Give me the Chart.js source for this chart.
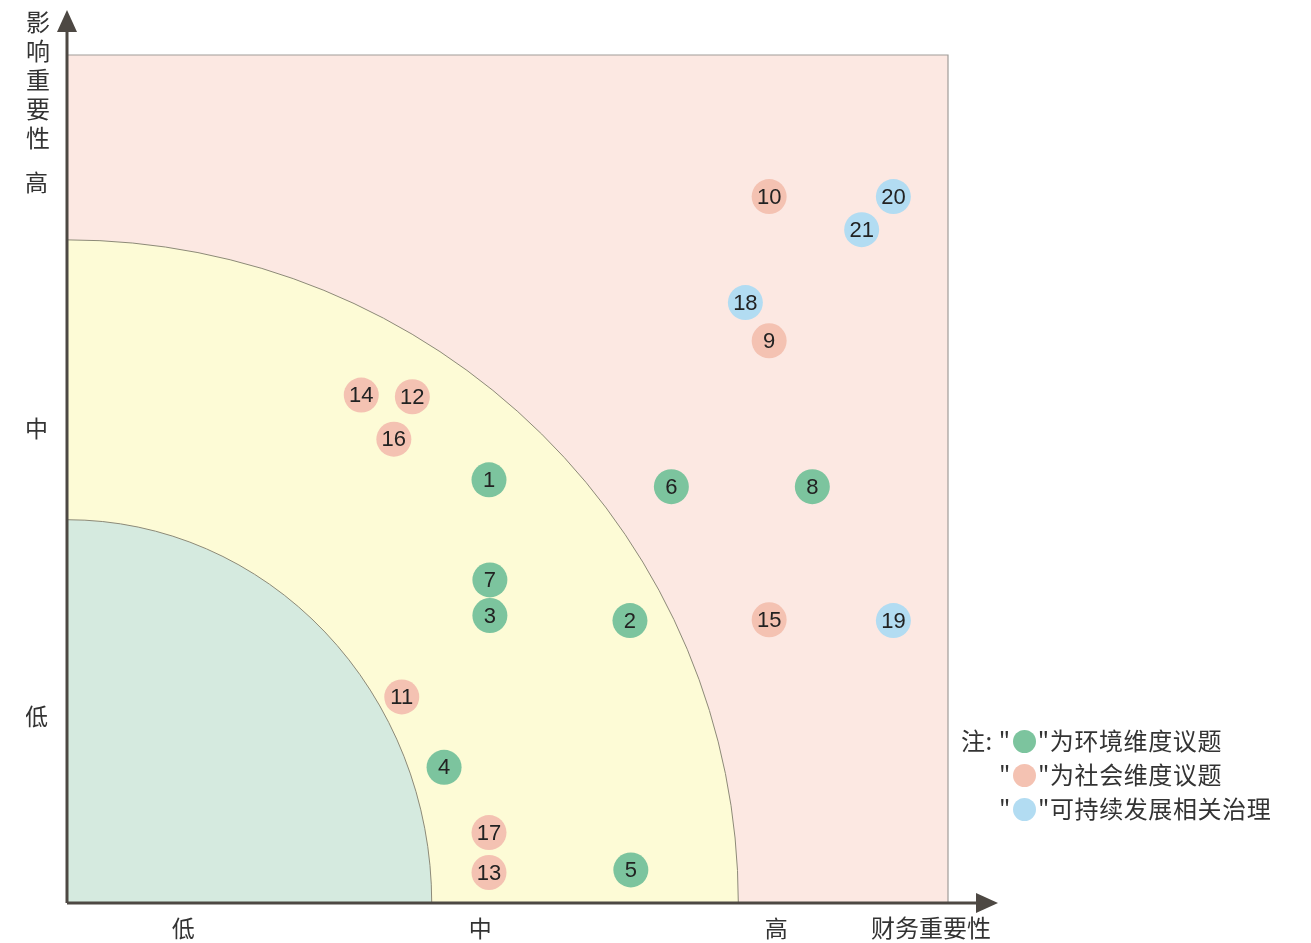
<!DOCTYPE html>
<html>
<head>
<meta charset="utf-8">
<script src="https://cdn.jsdelivr.net/npm/chart.js@4/dist/chart.umd.min.js"></script>
<style>
    html, body { margin: 0; padding: 0; background: #fff; }
    #wrap { position: relative; width: 1311px; height: 943px; }
    #legend {
        position: absolute; left: 961px; top: 723px;
        font-family: "Noto Sans CJK SC", sans-serif; font-size: 24px; color: #333;
        line-height: 34px; letter-spacing: 0.6px;
    }
    #legend .dot {
        display: inline-block; width: 23px; height: 23px; border-radius: 50%;
        vertical-align: -3px; margin: 0 2px;
    }
</style>
</head>
<body>
<div id="wrap">
    <canvas id="chart" width="1311" height="943"></canvas>
    <div id="legend">
        <div>注: "<span class="dot" style="background:#7cc49e"></span>"为环境维度议题</div>
        <div style="padding-left:38px">"<span class="dot" style="background:#f4c2b2"></span>"为社会维度议题</div>
        <div style="padding-left:38px">"<span class="dot" style="background:#b2dcf2"></span>"可持续发展相关治理</div>
    </div>
</div>
<script>
// 环境维度议题
const envIssues = ['1', '2', '3', '4', '5', '6', '7', '8'];
const envFinancial = [47.9, 63.9, 48.0, 42.8, 64.0, 68.6, 48.0, 84.6];
const envImpact = [49.9, 33.3, 33.9, 16.0, 3.9, 49.1, 38.1, 49.1];

// 社会维度议题
const socIssues = ['9', '10', '11', '12', '13', '14', '15', '16', '17'];
const socFinancial = [79.7, 79.7, 38.0, 39.2, 47.9, 33.4, 79.7, 37.1, 47.9];
const socImpact = [66.3, 83.3, 24.3, 59.7, 3.6, 59.9, 33.4, 54.7, 8.3];

// 可持续发展相关治理
const govIssues = ['18', '19', '20', '21'];
const govFinancial = [77.0, 93.8, 93.8, 90.2];
const govImpact = [70.8, 33.3, 83.3, 79.4];

const xTickValues = [13.2, 46.9, 80.5];
const xTickLabels = ['低', '中', '高'];
const yTickValues = [22, 56, 85];
const yTickLabels = ['低', '中', '高'];

// zone boundaries (quarter ellipses from origin)
const innerZone = { x: 41.4, y: 45.2 };
const outerZone = { x: 76.2, y: 78.2 };

const cjk = '"Noto Sans CJK SC", sans-serif';

function points(xs, ys, ids) {
    return xs.map((x, i) => ({ x: x, y: ys[i], id: ids[i] }));
}

const zonesPlugin = {
    id: 'zones',
    beforeDatasetsDraw(chart) {
        const { ctx, chartArea: a, scales } = chart;
        const cx = scales.x.getPixelForValue(0);
        const cy = scales.y.getPixelForValue(0);
        ctx.save();
        ctx.beginPath();
        ctx.rect(a.left, a.top, a.right - a.left, a.bottom - a.top);
        ctx.clip();
        ctx.fillStyle = '#fce8e2';
        ctx.fillRect(a.left, a.top, a.right - a.left, a.bottom - a.top);

        const zone = (z, color) => {
            const rx = scales.x.getPixelForValue(z.x) - cx;
            const ry = cy - scales.y.getPixelForValue(z.y);
            ctx.beginPath();
            ctx.moveTo(cx, cy);
            ctx.ellipse(cx, cy, rx, ry, 0, -Math.PI / 2, 0);
            ctx.closePath();
            ctx.fillStyle = color;
            ctx.fill();
            ctx.beginPath();
            ctx.ellipse(cx, cy, rx, ry, 0, -Math.PI / 2, 0);
            ctx.strokeStyle = '#8d8a78';
            ctx.lineWidth = 1;
            ctx.stroke();
        };
        zone(outerZone, '#fdfbd6');
        zone(innerZone, '#d5eadf');
        ctx.restore();

        // thin frame top and right
        ctx.save();
        ctx.strokeStyle = '#a09c98';
        ctx.lineWidth = 1.2;
        ctx.beginPath();
        ctx.moveTo(a.left, a.top);
        ctx.lineTo(a.right, a.top);
        ctx.lineTo(a.right, a.bottom);
        ctx.stroke();
        ctx.restore();
    },
    afterDatasetsDraw(chart) {
        const { ctx, chartArea: a } = chart;
        // labels inside the circles
        ctx.save();
        ctx.fillStyle = '#222';
        ctx.font = '22px "Liberation Sans", Arial, sans-serif';
        ctx.textAlign = 'center';
        ctx.textBaseline = 'middle';
        chart.data.datasets.forEach((ds, i) => {
            chart.getDatasetMeta(i).data.forEach((el, j) => {
                ctx.fillText(ds.data[j].id, el.x, el.y + 1);
            });
        });
        ctx.restore();

        // axes with arrows
        ctx.save();
        ctx.strokeStyle = '#4d4843';
        ctx.fillStyle = '#4d4843';
        ctx.lineWidth = 3;
        ctx.beginPath();
        ctx.moveTo(a.left, a.bottom);
        ctx.lineTo(a.left, 28);
        ctx.moveTo(a.left, a.bottom);
        ctx.lineTo(980, a.bottom);
        ctx.stroke();
        ctx.beginPath();
        ctx.moveTo(a.left, 10);
        ctx.lineTo(a.left - 10, 32);
        ctx.lineTo(a.left + 10, 32);
        ctx.closePath();
        ctx.fill();
        ctx.beginPath();
        ctx.moveTo(998, a.bottom);
        ctx.lineTo(976, a.bottom - 10);
        ctx.lineTo(976, a.bottom + 10);
        ctx.closePath();
        ctx.fill();

        // axis titles
        ctx.fillStyle = '#333';
        ctx.font = '24px ' + cjk;
        ctx.textAlign = 'center';
        ctx.textBaseline = 'middle';
        '影响重要性'.split('').forEach((c, i) => ctx.fillText(c, 38, 22 + i * 29));
        ctx.fillText('财务重要性', 931, 928);
        ctx.restore();
    }
};

new Chart(document.getElementById('chart'), {
    type: 'scatter',
    data: {
        datasets: [
            { label: '环境维度议题', data: points(envFinancial, envImpact, envIssues), backgroundColor: '#7cc49e' },
            { label: '社会维度议题', data: points(socFinancial, socImpact, socIssues), backgroundColor: '#f4c2b2' },
            { label: '可持续发展相关治理', data: points(govFinancial, govImpact, govIssues), backgroundColor: '#b2dcf2' }
        ]
    },
    options: {
        responsive: false,
        animation: false,
        layout: { padding: { left: 26, top: 55, right: 363, bottom: 3 } },
        elements: { point: { radius: 17.5, borderWidth: 0, hoverRadius: 17.5 } },
        plugins: { legend: { display: false }, tooltip: { enabled: false } },
        scales: {
            x: {
                type: 'linear', min: 0, max: 100,
                grid: { display: false, drawTicks: false },
                border: { display: false },
                afterBuildTicks: s => { s.ticks = xTickValues.map(v => ({ value: v })); },
                afterFit: s => { s.height = 37; },
                ticks: {
                    padding: 11, autoSkip: false, maxRotation: 0, color: '#333',
                    font: { size: 23, family: cjk },
                    callback: (v, i) => xTickLabels[i]
                }
            },
            y: {
                type: 'linear', min: 0, max: 100,
                grid: { display: false, drawTicks: false },
                border: { display: false },
                afterBuildTicks: s => { s.ticks = yTickValues.map(v => ({ value: v })); },
                afterFit: s => { s.width = 41; },
                ticks: {
                    padding: 19, autoSkip: false, color: '#333',
                    font: { size: 23, family: cjk },
                    callback: (v, i) => yTickLabels[i]
                }
            }
        }
    },
    plugins: [zonesPlugin]
});
</script>
</body>
</html>
